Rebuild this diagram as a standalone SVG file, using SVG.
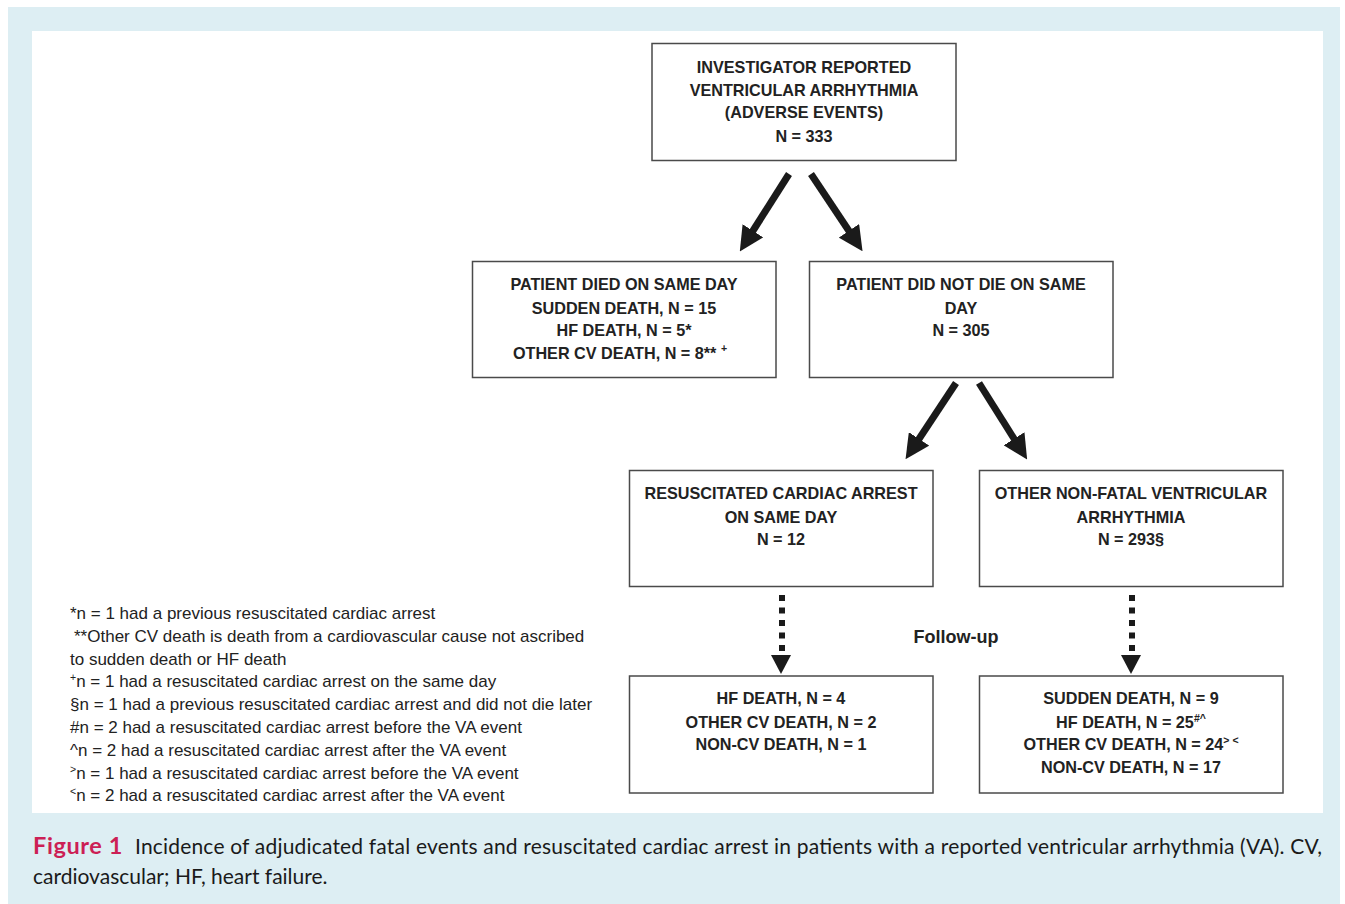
<svg xmlns="http://www.w3.org/2000/svg" width="1345" height="904" viewBox="0 0 1345 904">
<defs>
<style>
.box{fill:#fff;stroke:#4a4a4a;stroke-width:1.5}
.bt{font-family:"Liberation Sans",Arial,sans-serif;font-weight:bold;font-size:16.2px;fill:#222;text-anchor:middle}
.fn{font-family:"Liberation Sans",Arial,sans-serif;font-size:17px;fill:#222}
.sup{font-size:10.5px}
.cap{font-family:Lato,"Open Sans",sans-serif;font-size:21px;fill:#1a1a1a}
.solid{stroke:#1a1a1a;stroke-width:7;fill:none;marker-end:url(#ah)}
.dot{stroke:#1a1a1a;stroke-width:6;stroke-dasharray:6 6.5;fill:none}
</style>
<marker id="ah" viewBox="0 0 10 10" refX="3" refY="5" markerWidth="3.5" markerHeight="3.5" orient="auto" markerUnits="strokeWidth">
<path d="M0,0 L10,5 L0,10 z" fill="#1a1a1a"/>
</marker>
</defs>
<rect x="8" y="7" width="1332" height="897" fill="#ddeef3"/>
<rect x="32" y="31" width="1291" height="782" fill="#fff"/>

<g id="connectors">
<line class="solid" x1="789" y1="174" x2="749" y2="237"/>
<line class="solid" x1="811" y1="174" x2="853" y2="237"/>
<line class="solid" x1="956" y1="383" x2="915" y2="445"/>
<line class="solid" x1="979" y1="383" x2="1018" y2="445"/>
<line class="dot" x1="782" y1="595" x2="782" y2="651"/>
<path d="M771,655 L791,655 L781,674 z" fill="#1a1a1a"/>
<line class="dot" x1="1132" y1="595" x2="1132" y2="651"/>
<path d="M1121,655 L1141,655 L1131,674 z" fill="#1a1a1a"/>
</g>

<g id="n-top">
<rect class="box" x="652" y="43.5" width="304" height="117"/>
<text class="bt" x="804" y="73">INVESTIGATOR REPORTED</text>
<text class="bt" x="804" y="96">VENTRICULAR ARRHYTHMIA</text>
<text class="bt" x="804" y="118">(ADVERSE EVENTS)</text>
<text class="bt" x="804" y="142">N = 333</text>
</g>

<g id="n-died">
<rect class="box" x="472.5" y="261.5" width="303.5" height="116"/>
<text class="bt" x="624" y="290">PATIENT DIED ON SAME DAY</text>
<text class="bt" x="624" y="314">SUDDEN DEATH, N = 15</text>
<text class="bt" x="624" y="336">HF DEATH, N = 5*</text>
<text class="bt" x="620" y="359">OTHER CV DEATH, N = 8** <tspan class="sup" dy="-7">+</tspan></text>
</g>

<g id="n-notdied">
<rect class="box" x="809.5" y="261.5" width="303.5" height="116"/>
<text class="bt" x="961" y="290">PATIENT DID NOT DIE ON SAME</text>
<text class="bt" x="961" y="314">DAY</text>
<text class="bt" x="961" y="336">N = 305</text>
</g>

<g id="n-resus">
<rect class="box" x="629.5" y="470.5" width="303.5" height="116"/>
<text class="bt" x="781" y="499">RESUSCITATED CARDIAC ARREST</text>
<text class="bt" x="781" y="523">ON SAME DAY</text>
<text class="bt" x="781" y="545">N = 12</text>
</g>

<g id="n-other">
<rect class="box" x="979.5" y="470.5" width="303.5" height="116"/>
<text class="bt" x="1131" y="499">OTHER NON-FATAL VENTRICULAR</text>
<text class="bt" x="1131" y="523">ARRHYTHMIA</text>
<text class="bt" x="1131" y="545">N = 293§</text>
</g>

<g id="followup">
<text class="bt" x="956" y="643" style="font-size:18px">Follow-up</text>
</g>

<g id="n-fu-left">
<rect class="box" x="629.5" y="676" width="303.5" height="117"/>
<text class="bt" x="781" y="704">HF DEATH, N = 4</text>
<text class="bt" x="781" y="728">OTHER CV DEATH, N = 2</text>
<text class="bt" x="781" y="750">NON-CV DEATH, N = 1</text>
</g>

<g id="n-fu-right">
<rect class="box" x="979.5" y="676" width="303.5" height="117"/>
<text class="bt" x="1131" y="704">SUDDEN DEATH, N = 9</text>
<text class="bt" x="1131" y="728">HF DEATH, N = 25<tspan class="sup" dy="-6">#^</tspan></text>
<text class="bt" x="1131" y="750">OTHER CV DEATH, N = 24<tspan class="sup" dy="-6">&gt; &lt;</tspan></text>
<text class="bt" x="1131" y="773">NON-CV DEATH, N = 17</text>
</g>

<g id="footnotes">
<text class="fn" x="70" y="619">*n = 1 had a previous resuscitated cardiac arrest</text>
<text class="fn" x="74" y="642">**Other CV death is death from a cardiovascular cause not ascribed</text>
<text class="fn" x="70" y="665">to sudden death or HF death</text>
<text class="fn" x="70" y="687"><tspan class="sup" dy="-6">+</tspan><tspan dy="6">n = 1 had a resuscitated cardiac arrest on the same day</tspan></text>
<text class="fn" x="70" y="710">§n = 1 had a previous resuscitated cardiac arrest and did not die later</text>
<text class="fn" x="70" y="733">#n = 2 had a resuscitated cardiac arrest before the VA event</text>
<text class="fn" x="70" y="756">^n = 2 had a resuscitated cardiac arrest after the VA event</text>
<text class="fn" x="70" y="779"><tspan class="sup" dy="-6">&gt;</tspan><tspan dy="6">n = 1 had a resuscitated cardiac arrest before the VA event</tspan></text>
<text class="fn" x="70" y="801"><tspan class="sup" dy="-6">&lt;</tspan><tspan dy="6">n = 2 had a resuscitated cardiac arrest after the VA event</tspan></text>
</g>

<g id="caption">
<text class="cap" x="33" y="854" style="fill:#cc1f55;font-weight:bold;font-size:23.5px;letter-spacing:0.6px">Figure 1</text>
<text class="cap" x="135" y="854" textLength="1187" lengthAdjust="spacing">Incidence of adjudicated fatal events and resuscitated cardiac arrest in patients with a reported ventricular arrhythmia (VA). CV,</text>
<text class="cap" x="33" y="884">cardiovascular; HF, heart failure.</text>
</g>
</svg>
